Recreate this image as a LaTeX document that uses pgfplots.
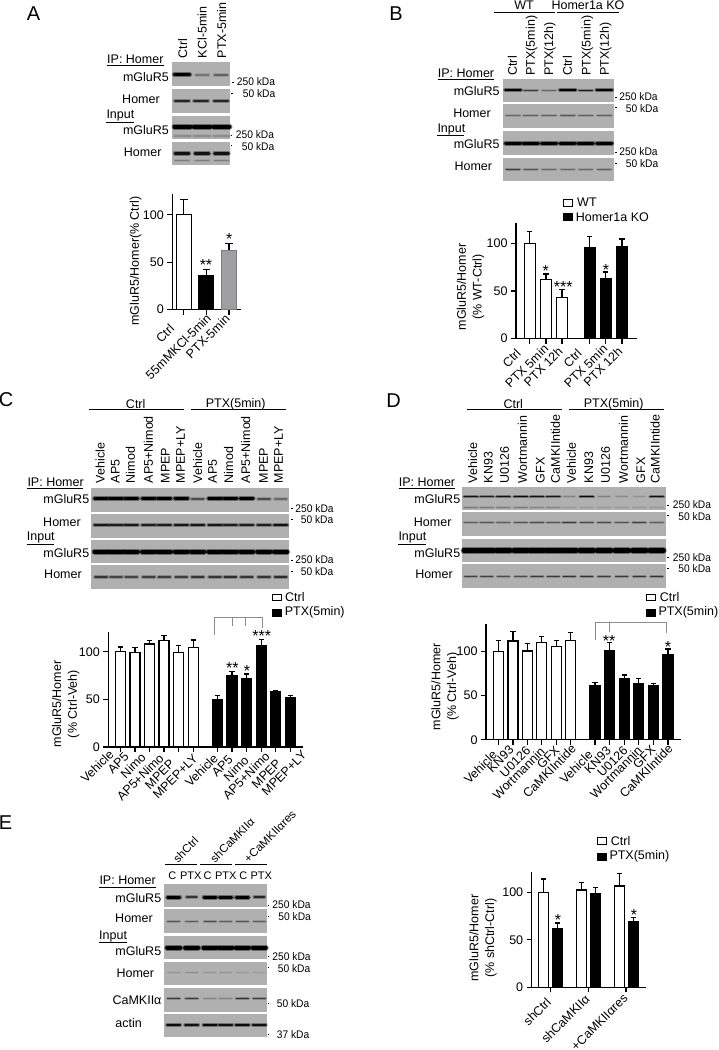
\documentclass[border=0pt]{standalone}
\usepackage{pgfplots}
\pgfplotsset{compat=1.18}
\usepackage{fontspec}
\setmainfont{Liberation Sans}
\newcommand\ls{\fontsize{12.5}{15.6}\selectfont}
\newcommand\kd{\fontsize{11}{13}\selectfont}
\definecolor{pgray}{gray}{0.69}
\definecolor{brk}{gray}{0.55}
% helpers for the page-wide pixel axis
\newcommand\panel[4]{\addplot[fill=pgray,draw=none] coordinates {(#1,#3)(#2,#3)(#2,#4)(#1,#4)} -- cycle;}
\def\bandone#1#2#3#4/#5\relax{%
  \pgfmathsetmacro\xa{#4-#2}\pgfmathsetmacro\xb{#4+#2}%
  \pgfmathsetmacro\oa{#5/100}\pgfmathsetmacro\ob{#5/250}\pgfmathsetmacro\lb{#3+2}%
  \edef\tmp{\noexpand\addplot[black,opacity=\ob,line width=\lb pt,line cap=round] coordinates {(\xa,#1)(\xb,#1)};
  \noexpand\addplot[black,opacity=\oa,line width=#3pt,line cap=round] coordinates {(\xa,#1)(\xb,#1)};}\tmp}
\newcommand\bands[4]{\pgfplotsinvokeforeach{#4}{\bandone{#1}{#2}{#3}##1\relax}}
\newcommand\seg[5][black]{\addplot[#1,line width=.9pt] coordinates {(#2,#3)(#4,#5)};}
\newcommand\T[3]{\node[font=\ls,inner sep=0pt] at (#1,#2) {#3};}
\newcommand\TS[3]{\node[font=\kd,inner sep=0pt] at (#1,#2) {#3};}
\newcommand\TL[3]{\node[font=\ls,inner sep=0pt,anchor=west] at (#1,#2) {#3};}
\newcommand\C[3]{\node[font=\ls,inner sep=0pt,rotate=90,anchor=base west] at (#1+4.5,#2) {#3};}
\newcommand\D[3]{\node[font=\fontsize{11.5}{14}\selectfont,inner sep=0pt,rotate=45,anchor=west] at (#1,#2) {#3};}
\newcommand\kda[3]{\node[font=\kd,inner sep=0pt,anchor=west,xscale=.93] at (#1,#2) {#3};}
\newcommand\stars[3]{\node[font=\fontsize{16}{16}\selectfont,inner sep=0pt] at (#1,#2+3) {#3};}
\newcommand\lwhite[4]{\addplot[fill=white,draw=black,line width=1pt] coordinates {(#1,#3)(#2,#3)(#2,#4)(#1,#4)} -- cycle;}
\newcommand\lblack[4]{\addplot[fill=black,draw=black,line width=1pt] coordinates {(#1,#3)(#2,#3)(#2,#4)(#1,#4)} -- cycle;}
% rotated tick label whose right end lies at (tick+dx, baseline+rel)
\newcommand\xl[3]{\pgfmathsetmacro\aa{.7071*(#1-#2+4.5)}\pgfmathsetmacro\pp{.7071*(-#1-#2+4.5)}%
  \llap{\raisebox{\pp pt}{\hbox{#3}\kern-\aa pt}}}
% bar styles
\def\capsz{3pt}
\pgfplotsset{
  baraxis/.style={scale only axis,axis x line=bottom,axis y line=left,
    axis line style={-,line width=1.2pt,black},
    tick style={black,line width=1.2pt},tick align=outside,major tick length=5pt,
    ymin=0,ytick={0,50,100},
    tick label style={font=\ls},
    /pgf/number format/assume math mode=true,
    xticklabel style={rotate=45,anchor=base east,inner sep=0pt,font=\ls},
    ylabel style={font=\ls,align=center,anchor=center},
    clip=false},
  barcommon/.style={ybar,bar shift=0pt,line width=1.2pt,
    error bars/.cd,y dir=plus,y explicit,
    error bar style={black,line width=1.2pt},
    error mark options={rotate=90,mark size=\capsz,line width=1.2pt,black}}
}
\newcommand\wb[3]{\addplot[draw=black,fill=white,barcommon] coordinates {(#1,#2) +- (0,#3)};}
\newcommand\kb[3]{\addplot[draw=black,fill=black,barcommon] coordinates {(#1,#2) +- (0,#3)};}
\newcommand\gb[3]{\addplot[draw={rgb,255:red,125;green,125;blue,128},fill={rgb,255:red,158;green,158;blue,163},barcommon] coordinates {(#1,#2) +- (0,#3)};}
\begin{document}
\begin{tikzpicture}[x=1pt,y=1pt]
\useasboundingbox (0,0) rectangle (718,1050);
\fill[white] (0,0) rectangle (718,1050);
\begin{axis}[at={(0pt,0pt)},anchor=south west,scale only axis,width=718pt,height=1050pt,
  hide axis,xmin=0,xmax=718,ymin=0,ymax=1050,y dir=reverse,clip=false]
% ---------- panel letters
\node[font=\fontsize{20}{20}\selectfont] at (33.5,14) {A};
\node[font=\fontsize{20}{20}\selectfont] at (396,13.5) {B};
\node[font=\fontsize{20}{20}\selectfont] at (6,400) {C};
\node[font=\fontsize{20}{20}\selectfont] at (393.5,401) {D};
\node[font=\fontsize{20}{20}\selectfont] at (5.5,823) {E};
% ---------- A blots
\panel{172}{230}{62.3}{86}\panel{172}{230}{89}{112.7}\panel{172}{230}{116}{139}\panel{172}{230}{142}{165.3}
\bands{74.7}{7.5}{3.5}{182/100}
\bands{75}{6.5}{1.3}{202.3/25,221/35}
\bands{100.7}{7}{2}{182/70,201/70,221/70}
\bands{126.5}{8}{4}{182.5/100,202/100,221.5/100}
\bands{135.7}{8}{2}{182.5/15,202/15,221.5/15}
\bands{153.3}{7}{2.5}{182/85,202/85,221.5/85}
\bands{160.5}{7}{1.5}{182/20,202/20,221.5/20}
\TL{107}{59.5}{IP: Homer}\seg{107}{65.7}{163.5}{65.7}
\T{146}{77}{mGluR5}\T{141}{99.7}{Homer}
\TL{106.3}{115}{Input}\seg{106.3}{122}{133.7}{122}
\T{146}{130}{mGluR5}\T{142.7}{152.3}{Homer}
\kda{236.7}{82}{250 kDa}\kda{242.7}{94}{50 kDa}\kda{235.7}{134.7}{250 kDa}\kda{241.7}{146.7}{50 kDa}
\seg{231.7}{82}{233.5}{82}\seg{230.7}{93.3}{232.5}{93.3}\seg{230.5}{135}{232.3}{135}\seg{230.5}{145}{232.3}{145}
\C{182.7}{58.3}{Ctrl}\C{202}{58.3}{KCl-5min}\C{221.7}{58.3}{PTX-5min}
\stars{229.3}{236}{*}\stars{206}{262}{**}
% ---------- B blots
\panel{502.7}{614}{78.7}{102.3}\panel{502.7}{614}{104.3}{128}\panel{502.7}{614}{131.3}{155}\panel{502.7}{614}{157.7}{181.3}
\bands{90}{7.5}{2.8}{513/100,567.7/100,604.3/100}
\bands{90.3}{6.5}{1.6}{530.7/55,549/30,585.7/75}
\bands{115.7}{7}{1.4}{513/30,530.7/35,549/35,567.7/40,585.7/35,604.3/35}
\bands{143.3}{7.5}{3}{513/100,530.7/100,549/100,567.7/100,585.7/100,604.3/100}
\bands{169.3}{6.5}{1.6}{513/55,530.7/40,549/30,567.7/30,585.7/30,604.3/35}
\TL{437.7}{73.3}{IP: Homer}\seg{437.7}{79.7}{494}{79.7}
\T{476.7}{90.7}{mGluR5}\T{472}{113.3}{Homer}
\TL{437.3}{129}{Input}\seg{437.3}{135}{464.3}{135}
\T{476.7}{144}{mGluR5}\T{473.3}{166}{Homer}
\kda{619.3}{96.3}{250 kDa}\kda{625.7}{108.3}{50 kDa}\kda{619.3}{152}{250 kDa}\kda{625.7}{163.7}{50 kDa}
\seg{615}{97}{617.3}{97}\seg{615}{107.3}{617.3}{107.3}\seg{615}{152.7}{617.3}{152.7}\seg{615}{163.3}{617.3}{163.3}
\C{512.3}{75.7}{Ctrl}\C{530.3}{75.7}{PTX(5min)}\C{548.7}{75.7}{PTX(12h)}\C{567.3}{75.7}{Ctrl}\C{586}{75.7}{PTX(5min)}\C{604.3}{75.7}{PTX(12h)}
\T{524}{5}{WT}\T{588}{5}{Homer1a KO}
\seg{493.7}{12}{555}{12}\seg{556.7}{12}{618.7}{12}
\lwhite{563}{572.5}{199}{206}\TL{577}{202}{WT}
\lblack{563}{572.5}{213.5}{220.5}\TL{575.7}{217}{Homer1a KO}
\stars{545.7}{268}{*}\stars{563.3}{284}{***}\stars{606}{266.7}{*}
% ---------- C blots
\panel{90.7}{289.3}{487.7}{511.7}\panel{90.7}{289.3}{513.7}{537.7}\panel{90.7}{289.3}{540.3}{563.3}\panel{90.7}{289.3}{565}{588.7}
\bands{498.3}{6.5}{2.8}{101/100,116/100,131.3/100,148.7/100,164.3/100,181.3/100,215/100,230.3/100,246.7/100}
\bands{498.7}{6}{1.6}{197.7/45,264/45,280.7/30}
\bands{525.3}{6.5}{2.2}{101/80,116/75,131.3/80,148.7/75,164.3/75,181.3/80,197.7/80,215/80,230.3/75,246.7/75,264/75,280.7/85}
\bands{551.5}{6.5}{4}{101/100,116/100,131.3/100,148.7/100,164.3/100,181.3/100,197.7/100,215/100,230.3/100,246.7/100,264/100,280.7/100}
\bands{577}{6}{1.6}{101/60,116/50,131.3/50,148.7/55,164.3/55,181.3/55,197.7/60,215/60,230.3/65,246.7/60,264/60,280.7/65}
\TL{27.3}{482.3}{IP: Homer}\seg{27.3}{488.3}{83.3}{488.3}
\T{66.3}{499.3}{mGluR5}\T{62}{522}{Homer}
\TL{26.7}{537.7}{Input}\seg{26.7}{544}{54.3}{544}
\T{66.3}{553}{mGluR5}\T{63}{574.3}{Homer}
\kda{295.3}{508.3}{250 kDa}\kda{300.7}{520}{50 kDa}\kda{295.3}{560}{250 kDa}\kda{300.7}{571.7}{50 kDa}
\seg{290.7}{508.3}{292.7}{508.3}\seg{290.7}{519.3}{292.7}{519.3}\seg{290.7}{560}{292.7}{560}\seg{290.7}{571}{292.7}{571}
\C{100}{483.3}{Vehicle}\C{115}{483.3}{AP5}\C{130.3}{483.3}{Nimod}\C{148.3}{483.3}{AP5+Nimod}\C{165}{483.3}{MPEP}\C{180.3}{483.3}{MPEP+LY}
\C{197.7}{483.3}{Vehicle}\C{212.3}{483.3}{AP5}\C{228.7}{483.3}{Nimod}\C{245.7}{483.3}{AP5+Nimod}\C{263.3}{483.3}{MPEP}\C{278.3}{483.3}{MPEP+LY}
\T{135.7}{404.3}{Ctrl}\T{235.7}{404.3}{PTX(5min)}
\seg{88.7}{409.7}{184}{409.7}\seg{190.7}{409.7}{286}{409.7}
\lwhite{272}{281.5}{594.3}{600.7}\TL{285}{597}{Ctrl}
\lblack{272}{281.5}{609.5}{616}\TL{284.7}{612}{PTX(5min)}
\addplot[brk,line width=.8pt] coordinates {(214,635)(214,617.3)(262.3,617.3)(262.3,628)};
\seg[brk]{232}{617.3}{232}{625.7}\seg[brk]{245.7}{617.3}{245.7}{625.7}
\stars{261.7}{633}{***}\stars{232.3}{665}{**}\stars{247}{668}{*}
% ---------- D blots
\panel{462}{666}{486.7}{510}\panel{462}{666}{512.3}{536.3}\panel{462}{666}{538.7}{562.3}\panel{462}{666}{564.3}{588.3}
\bands{496.5}{6.5}{1.8}{470.7/85,486.7/75,503.3/85,520.7/90,537/85,553.3/80,586.7/90,656.7/85}
\bands{496.5}{5.5}{1.2}{569.3/18,604/20,621.7/15,639.3/12}
\bands{507.5}{6.5}{1.2}{470.7/22,486.7/22,503.3/22,520.7/22,537/18,553.3/18,569.3/10,586.7/10,604/10,621.7/10,639.3/10,656.7/10}
\bands{522.5}{6.5}{1.3}{470.7/35,486.7/40,503.3/35,520.7/40,537/45,553.3/40,569.3/55,586.7/45,604/45,621.7/40,639.3/50,656.7/35}
\bands{550.5}{7}{4.2}{470.7/100,486.7/100,503.3/100,520.7/100,537/100,553.3/100,569.3/100,586.7/100,604/100,621.7/100,639.3/100,656.7/100}
\bands{576.3}{6}{1.4}{470.7/50,486.7/50,503.3/45,520.7/45,537/55,553.3/55,569.3/60,586.7/60,604/55,621.7/55,639.3/60,656.7/60}
\TL{398.7}{482.3}{IP: Homer}\seg{398.7}{488.3}{455}{488.3}
\T{437.3}{499.3}{mGluR5}\T{432.7}{522}{Homer}
\TL{398.3}{537.7}{Input}\seg{398.3}{544}{425.7}{544}
\T{437.3}{553}{mGluR5}\T{434}{574.3}{Homer}
\kda{672.7}{505}{250 kDa}\kda{678.3}{516.3}{50 kDa}\kda{672.7}{557.7}{250 kDa}\kda{678.3}{569}{50 kDa}
\seg{667}{505}{669}{505}\seg{667}{515.7}{669}{515.7}\seg{667}{557.7}{669}{557.7}\seg{667}{568.3}{669}{568.3}
\C{472.7}{483.3}{Vehicle}\C{488}{483.3}{KN93}\C{504.3}{483.3}{U0126}\C{522.3}{483.3}{Wortmannin}\C{540}{483.3}{GFX}\C{555.3}{483.3}{CaMKIIntide}
\C{571.3}{483.3}{Vehicle}\C{588.7}{483.3}{KN93}\C{605.3}{483.3}{U0126}\C{623.3}{483.3}{Wortmannin}\C{640.7}{483.3}{GFX}\C{655}{483.3}{CaMKIIntide}
\T{513.3}{404.3}{Ctrl}\T{613.7}{404.3}{PTX(5min)}
\seg{466.7}{409.7}{562}{409.7}\seg{568.7}{409.7}{664}{409.7}
\lwhite{646}{655.5}{594.3}{600.7}\TL{659.7}{597}{Ctrl}
\lblack{646}{655.5}{609.5}{616}\TL{658.3}{612}{PTX(5min)}
\addplot[brk,line width=.8pt] coordinates {(595.3,640.3)(595.3,622.3)(666.7,622.3)(666.7,633.3)};
\seg[brk]{609.7}{622.3}{609.7}{631.7}
\stars{609}{637.7}{**}\stars{668}{643.7}{*}
% ---------- E blots
\panel{164}{266.7}{883.7}{907.3}\panel{164}{266.7}{909.3}{933}\panel{164}{266.7}{936}{959.3}\panel{164}{266.7}{961.7}{985}\panel{164}{266.7}{987.7}{1011.7}\panel{164}{266.7}{1014}{1037.3}
\bands{897}{6}{3}{173.7/100,210/100,225.7/95,242.3/100}
\bands{897.3}{5}{1.8}{191.7/60,259.3/70}
\bands{921}{6}{1}{173.7/40,191.7/35,210/45,225.7/35,242.3/40,259.3/35}
\bands{947.5}{6.5}{4}{173.7/100,191.7/100,210/100,225.7/100,242.3/100,259.3/100}
\bands{972.7}{6}{.9}{173.7/10,191.7/13,210/10,225.7/10,242.3/8,259.3/7}
\bands{998.7}{6}{1.5}{173.7/55,191.7/55,210/18,225.7/18,242.3/60,259.3/55}
\bands{1025}{6.5}{2}{173.7/90,191.7/85,210/90,225.7/85,242.3/90,259.3/85}
\TL{99.3}{880.7}{IP: Homer}\seg{99.3}{887}{156}{887}
\T{138.3}{898.3}{mGluR5}\T{134}{918.3}{Homer}
\TL{99}{936.7}{Input}\seg{99}{942.7}{126.7}{942.7}
\T{138.3}{951.3}{mGluR5}\T{135.3}{973.3}{Homer}\T{137}{999.7}{CaMKIIα}\T{128.7}{1023.3}{actin}
\kda{272.3}{905}{250 kDa}\kda{278.3}{916.7}{50 kDa}\kda{272.3}{956.7}{250 kDa}\kda{277.7}{968.3}{50 kDa}\kda{276.7}{1003.7}{50 kDa}\kda{276.7}{1034.3}{37 kDa}
\seg{267.5}{905}{269}{905}\seg{267.5}{916}{269}{916}\seg{267.5}{956.7}{269}{956.7}\seg{267.5}{967.7}{269}{967.7}\seg{267.5}{1003.7}{269}{1003.7}\seg{267.5}{1034.3}{269}{1034.3}
\TS{172.3}{875.7}{C}\TS{190.7}{875.7}{PTX}\TS{207.7}{875.7}{C}\TS{225.7}{875.7}{PTX}\TS{243.3}{875.7}{C}\TS{261.3}{875.7}{PTX}
\seg{165}{864.3}{197}{864.3}\seg{200}{864.3}{232}{864.3}\seg{235}{864.3}{267}{864.3}
\D{175}{860.5}{shCtrl}\D{212}{860.5}{shCaMKIIα}\D{246}{860.5}{+CaMKIIαres}
\lwhite{597}{606}{837.5}{844.5}\TL{610.7}{841}{Ctrl}
\lblack{597}{606}{853}{860.5}\TL{609.3}{856}{PTX(5min)}
\stars{558}{916.7}{*}\stars{634}{912}{*}
\end{axis}
% ---------- A bars
\def\capsz{3.7pt}
\begin{axis}[baraxis,at={(172.3pt,740.3pt)},anchor=south west,width=68.7pt,height=115.4pt,
  xmin=172.3,xmax=241,ymax=121.5,xtick={183.8,206.3,229},
  xticklabels={\xl{-8.3}{19.3}{Ctrl},\xl{6}{8.6}{55mMKCl-5min},\xl{2}{9.3}{PTX-5min}},
  ylabel={mGluR5/Homer(\% Ctrl)},ylabel style={at={(rel axis cs:-0.533,0.422)}},
  every axis plot/.append style={bar width=15pt}]
\wb{183.8}{100}{15.8}
\kb{206.3}{36}{6.5}
\gb{229}{62.7}{7.3}
\end{axis}
% ---------- B bars
\def\capsz{2.6pt}
\begin{axis}[baraxis,at={(516pt,711.3pt)},anchor=south west,width=120.7pt,height=115.4pt,
  xmin=516,xmax=636.7,ymax=121,xtick={529.8,546,562,589.7,605.7,622},
  xticklabels={\xl{-7.7}{14.6}{Ctrl},\xl{3.7}{10.3}{PTX 5min},\xl{2}{13}{PTX 12h},\xl{-6.7}{14.6}{Ctrl},\xl{3}{10.3}{PTX 5min},\xl{1.7}{13}{PTX 12h}},
  ylabel={mGluR5/Homer\\(\% WT-Ctrl)},ylabel style={at={(rel axis cs:-0.377,0.448)}},
  every axis plot/.append style={bar width=11pt}]
\wb{529.8}{100}{12.6}
\wb{546}{61.9}{5.9}
\wb{562}{43}{8.7}
\kb{589.7}{96}{11.3}
\kb{605.7}{62.6}{7.4}
\kb{622}{96.9}{7.6}
\end{axis}
% ---------- C bars
\begin{axis}[baraxis,at={(108.3pt,303pt)},anchor=south west,width=194.4pt,height=115.3pt,
  xmin=108.3,xmax=302.7,ymax=121,
  xtick={120.3,135,149.7,164,178.7,193.3,217.3,232,246.7,261.3,275.7,290.3},
  xticklabels={\xl{-5.3}{7.3}{Vehicle},\xl{-5}{9.7}{AP5},\xl{-2.7}{10.7}{Nimo},\xl{1}{11.3}{AP5+Nimo},\xl{-3}{17}{MPEP},\xl{5.7}{11.3}{MPEP+LY},\xl{2}{11.3}{Vehicle},\xl{2}{13}{AP5},\xl{3.3}{13.7}{Nimo},\xl{9.7}{9.7}{AP5+Nimo},\xl{6.6}{16.3}{MPEP},\xl{17.4}{8}{MPEP+LY}},
  ylabel={mGluR5/Homer\\(\% Ctrl-Veh)},ylabel style={at={(rel axis cs:-0.219,0.373)}},
  every axis plot/.append style={bar width=10pt}]
\wb{120.3}{100}{4.9}
\wb{135}{99}{5}
\wb{149.7}{108}{4}
\wb{164}{111.5}{5.3}
\wb{178.7}{99.3}{7}
\wb{193.3}{104.2}{8}
\kb{217.3}{50}{4}
\kb{232}{74.5}{4.5}
\kb{246.7}{71.7}{4.9}
\kb{261.3}{106.3}{6.7}
\kb{275.7}{57.7}{1.7}
\kb{290.3}{52}{2.2}
\end{axis}
% ---------- D bars
\begin{axis}[baraxis,at={(486pt,310.3pt)},anchor=south west,width=194.7pt,height=115.4pt,
  xmin=486,xmax=680.7,ymax=130.6,
  xtick={498.3,513,527.7,541.7,556.7,570.7,595,609.7,624.3,638.7,653.3,668},
  xticklabels={\xl{0}{15.3}{Vehicle},\xl{2}{10.3}{KN93},\xl{4}{11.3}{U0126},\xl{4.3}{12}{Wortmannin},\xl{4}{11}{GFX},\xl{6.6}{9.3}{CaMKIIntide},\xl{-1}{15.3}{Vehicle},\xl{2.6}{11.3}{KN93},\xl{4.7}{11}{U0126},\xl{4.6}{11.3}{Wortmannin},\xl{3.4}{10.3}{GFX},\xl{6}{9.3}{CaMKIIntide}},
  ylabel={mGluR5/Homer\\(\% Ctrl-Veh)},ylabel style={at={(rel axis cs:-0.2106,0.459)}},
  every axis plot/.append style={bar width=10pt}]
\wb{498.3}{100}{12.5}
\wb{513}{111.7}{10.3}
\wb{527.7}{100.4}{8.6}
\wb{541.7}{109.8}{6.8}
\wb{556.7}{105.7}{6.3}
\wb{570.7}{112}{9}
\kb{595}{61.1}{3.4}
\kb{609.7}{100.8}{9}
\kb{624.3}{69}{4.2}
\kb{638.7}{64}{5.4}
\kb{653.3}{60.8}{3}
\kb{668}{95.8}{6.8}
\end{axis}
% ---------- E bars
\begin{axis}[baraxis,at={(531.7pt,62.7pt)},anchor=south west,width=114.3pt,height=115.6pt,
  xmin=531.7,xmax=646,ymax=121.6,xtick={550.7,588.3,626},
  xticklabels={\xl{1.6}{15}{shCtrl},\xl{2.7}{11.7}{shCaMKIIα},\xl{3}{11}{+CaMKIIαres}},
  ylabel={mGluR5/Homer\\(\% shCtrl-Ctrl)},ylabel style={at={(rel axis cs:-0.426,0.426)}},
  every axis plot/.append style={bar width=10pt}]
\wb{543.7}{100}{14}
\kb{557.8}{62}{5.7}
\wb{581.5}{102.4}{7.6}
\kb{595.8}{98.6}{6.3}
\wb{619.2}{106.6}{13}
\kb{633.5}{68.7}{4.9}
\end{axis}
\end{tikzpicture}
\end{document}
